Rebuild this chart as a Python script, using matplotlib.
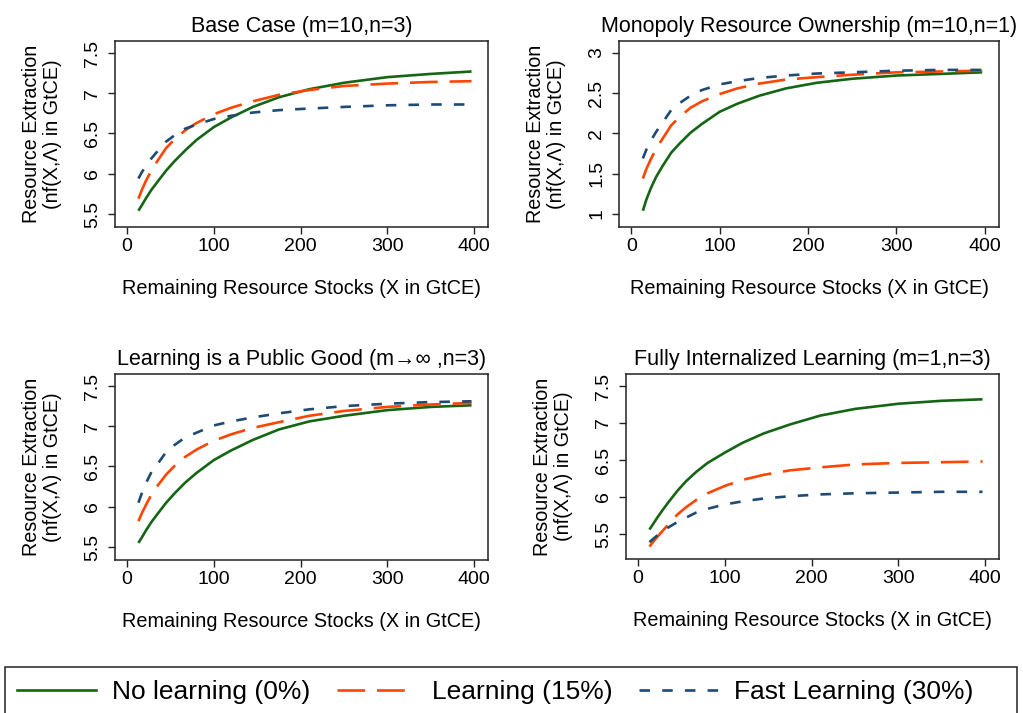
"""
Resource extraction vs remaining stocks under four learning scenarios,
2x2 panels with one shared legend strip at the bottom.
"""

import matplotlib
matplotlib.use("Agg")
import matplotlib.pyplot as plt
from matplotlib.lines import Line2D
from matplotlib.patches import Rectangle

plt.rcParams["font.family"] = ["Liberation Sans", "DejaVu Sans"]

# remaining resource stocks (X in GtCE) where the curves were read
stocks = [13, 17, 22, 28, 35, 45, 55, 67, 80, 100, 120, 145, 175, 210, 250, 300, 350, 397]

# Base Case (m=10, n=3)
base_none = [5.54, 5.61, 5.70, 5.80, 5.90, 6.04, 6.16, 6.29, 6.42, 6.58, 6.70, 6.83, 6.95, 7.05, 7.13, 7.20, 7.24, 7.27]
base_learn = [5.69, 5.80, 5.92, 6.04, 6.16, 6.32, 6.43, 6.54, 6.63, 6.74, 6.82, 6.90, 6.98, 7.04, 7.09, 7.12, 7.14, 7.15]
base_fast = [5.94, 6.02, 6.10, 6.19, 6.28, 6.40, 6.48, 6.56, 6.61, 6.68, 6.72, 6.76, 6.79, 6.81, 6.83, 6.85, 6.86, 6.86]

# Monopoly Resource Ownership (m=10, n=1)
mono_none = [1.04, 1.18, 1.32, 1.46, 1.59, 1.76, 1.88, 2.01, 2.12, 2.27, 2.37, 2.47, 2.56, 2.63, 2.68, 2.72, 2.74, 2.76]
mono_learn = [1.44, 1.56, 1.68, 1.81, 1.93, 2.10, 2.21, 2.32, 2.40, 2.49, 2.56, 2.62, 2.67, 2.70, 2.73, 2.76, 2.77, 2.78]
mono_fast = [1.69, 1.80, 1.91, 2.02, 2.13, 2.29, 2.38, 2.47, 2.54, 2.61, 2.65, 2.69, 2.72, 2.745, 2.76, 2.78, 2.79, 2.79]

# Learning is a Public Good (m -> inf, n=3)
pub_none = [5.55, 5.62, 5.71, 5.81, 5.91, 6.05, 6.17, 6.30, 6.42, 6.58, 6.70, 6.83, 6.96, 7.06, 7.13, 7.20, 7.24, 7.26]
pub_learn = [5.82, 5.92, 6.03, 6.15, 6.26, 6.40, 6.51, 6.62, 6.71, 6.82, 6.90, 6.98, 7.05, 7.13, 7.19, 7.24, 7.27, 7.29]
pub_fast = [6.05, 6.17, 6.30, 6.43, 6.53, 6.68, 6.77, 6.86, 6.92, 7.01, 7.06, 7.11, 7.16, 7.21, 7.25, 7.28, 7.30, 7.31]

# Fully Internalized Learning (m=1, n=3)
full_none = [5.56, 5.63, 5.72, 5.82, 5.93, 6.08, 6.21, 6.34, 6.46, 6.60, 6.73, 6.86, 6.98, 7.10, 7.19, 7.26, 7.30, 7.32]
full_learn = [5.33, 5.39, 5.46, 5.54, 5.63, 5.76, 5.86, 5.96, 6.05, 6.15, 6.23, 6.30, 6.36, 6.40, 6.44, 6.46, 6.47, 6.48]
full_fast = [5.39, 5.43, 5.48, 5.53, 5.59, 5.66, 5.72, 5.79, 5.84, 5.90, 5.94, 5.98, 6.01, 6.035, 6.05, 6.06, 6.07, 6.07]

titles = ["Base Case (m=10,n=3)",
          "Monopoly Resource Ownership (m=10,n=1)",
          "Learning is a Public Good (m\u2192\u221e ,n=3)",
          "Fully Internalized Learning (m=1,n=3)"]
yticks_7 = [5.5, 6, 6.5, 7, 7.5]
yticklabels_7 = ["5.5", "6", "6.5", "7", "7.5"]
yticks_mono = [1, 1.5, 2, 2.5, 3]
yticklabels_mono = ["1", "1.5", "2", "2.5", "3"]
xticks = [0, 100, 200, 300, 400]
series_labels = ["No learning (0%)", "Learning (15%)", "Fast Learning (30%)"]

GREEN = "#146614"
ORANGE = "#ff4500"
NAVY = "#1f4a73"
LW = 1.9
styles = [dict(color=GREEN, lw=LW, ls="-"),
          dict(color=ORANGE, lw=LW, ls=(0, (10.5, 4.5))),
          dict(color=NAVY, lw=LW, ls=(0, (4.0, 4.6)))]

W, H = 1023, 713
fig = plt.figure(figsize=(W / 100, H / 100), dpi=100)


def px_axes(left, top, right, bottom):
    return fig.add_axes([left / W, 1 - bottom / H, (right - left) / W, (bottom - top) / H])


panels = [
    (px_axes(115, 41, 488, 227), [base_none, base_learn, base_fast], (5.338, 7.649), yticks_7, yticklabels_7),
    (px_axes(619, 41, 999, 227), [mono_none, mono_learn, mono_fast], (0.838, 3.149), yticks_mono, yticklabels_mono),
    (px_axes(115, 374, 488, 560), [pub_none, pub_learn, pub_fast], (5.338, 7.649), yticks_7, yticklabels_7),
    (px_axes(626, 374, 999, 559), [full_none, full_learn, full_fast], (5.162, 7.662), yticks_7, yticklabels_7),
]

for (ax, ys, ylim, yt, ytl), title in zip(panels, titles):
    for y, st in zip(ys, styles):
        ax.plot(stocks, y, solid_capstyle="butt", dash_capstyle="butt", **st)
    ax.set_xlim(-14, 416)
    ax.set_ylim(*ylim)
    ax.set_xticks(xticks)
    ax.set_yticks(yt)
    ax.set_yticklabels(ytl, rotation=90, va="center")
    ax.tick_params(direction="out", length=5, width=1, labelsize=14, color="#222222")
    ax.tick_params(axis="x", pad=3)
    ax.tick_params(axis="y", pad=5)
    for sp in ax.spines.values():
        sp.set_linewidth(1.1)
        sp.set_color("#222222")
    ax.set_title(title, fontsize=15.5, pad=6.5)
    ax.set_xlabel("Remaining Resource Stocks (X in GtCE)", fontsize=14.3, labelpad=17)
    ax.set_ylabel("Resource Extraction\n(nf(X,\u039b) in GtCE)", fontsize=14.2,
                  labelpad=16, linespacing=1.15)

# legend strip at the bottom
fig.add_artist(Rectangle((5 / W, -0.02), (1017 - 5) / W, (713 - 667) / H + 0.02,
                         transform=fig.transFigure, fill=False, lw=1.1, ec="#222222"))
handles = [Line2D([], [], **st) for st in styles]
fig.legend(handles, series_labels, loc="center left",
           bbox_to_anchor=(17 / W, 1 - 692 / H), ncol=3, frameon=False,
           fontsize=19, handlelength=3.0, handletextpad=0.6,
           columnspacing=1.0, borderpad=0, borderaxespad=0)

fig.savefig("out.png", dpi=100)
